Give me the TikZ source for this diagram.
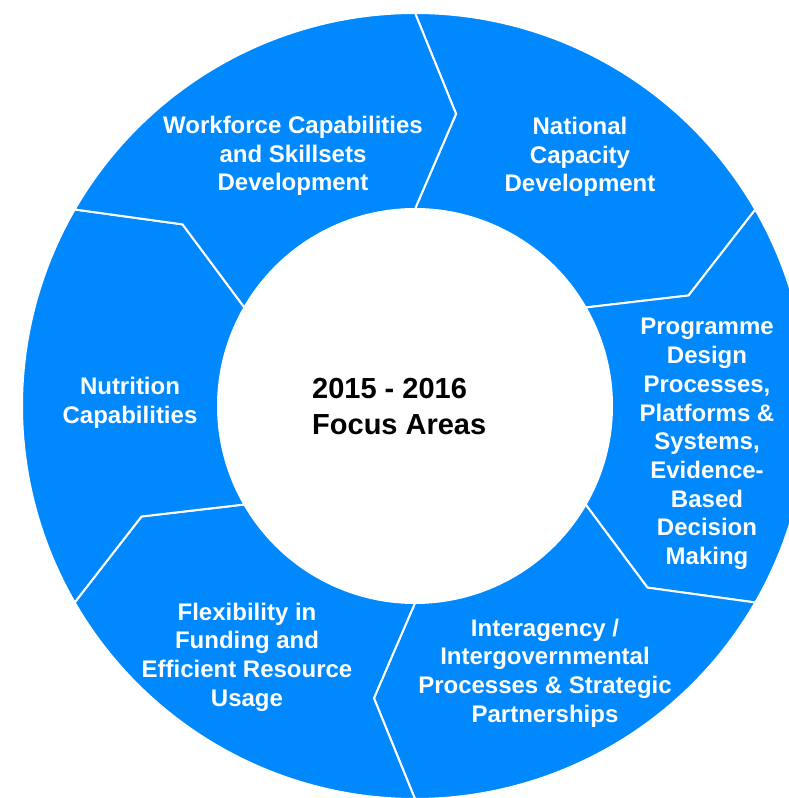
\documentclass[tikz,border=0pt]{standalone}
\usepackage{fontspec}
\setmainfont{Liberation Sans}
\definecolor{ringblue}{RGB}{0,137,255}
\begin{document}
\begin{tikzpicture}[x=1pt,y=1pt,
  segment/.style={fill=ringblue, draw=white, line width=2pt, line join=miter},
  segtext/.style={text=white, font=\fontsize{24}{28.7}\selectfont\bfseries, align=center, inner sep=0pt},
  hubtext/.style={text=black, font=\fontsize{29}{36}\selectfont\bfseries, align=left, inner sep=0pt}]
  \useasboundingbox (0,0) rectangle (789,798);
  \clip (0,0) rectangle (789,798);
  % six chevron-shaped ring segments, pointing clockwise
  \begin{scope}[shift={(415,392)}]
    \foreach \a in {90,30,-30,-90,-150,-210} {
      \path[segment] (\a:393pt)
        arc[start angle=\a, end angle=\a-60, radius=393pt]
        -- (\a-68:295pt) -- (\a-60:197pt)
        arc[start angle=\a-60, end angle=\a, radius=197pt]
        -- (\a-8:295pt) -- cycle;
    }
  \end{scope}
  % labels
  \node[hubtext, anchor=west] (hub) at (312,391) {2015 - 2016\\Focus Areas};
  \node[segtext] (workforce) at (293,642) {Workforce Capabilities\\and Skillsets\\Development};
  \node[segtext] (national) at (580,641) {National\\Capacity\\Development};
  \node[segtext] (programme) at (707,354) {Programme\\Design\\Processes,\\Platforms \&\\Systems,\\Evidence-\\Based\\Decision\\Making};
  \node[segtext] (interagency) at (545,125) {Interagency /\\Intergovernmental\\Processes \& Strategic\\Partnerships};
  \node[segtext] (flexibility) at (247,141) {Flexibility in\\Funding and\\Efficient Resource\\Usage};
  \node[segtext] (nutrition) at (130,395) {Nutrition\\Capabilities};
\end{tikzpicture}
\end{document}
